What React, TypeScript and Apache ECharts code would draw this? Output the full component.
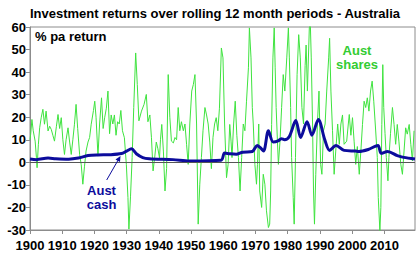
import React, { useEffect, useRef } from "react";
import * as echarts from "echarts";

const titleText = "Investment returns over rolling 12 month periods - Australia";
const yAxisTitle = "% pa return";
const xMin = 1900;
const xMax = 2019.5;
const xStep = 10;
const yMin = -30;
const yMax = 60;
const yStep = 10;

// [year, % pa] – Aust shares, rolling 12 month return
const sharesData: [number, number][] = [
  [1900.0, 10], [1900.2, 12.4], [1900.6, 19], [1901.0, 14], [1901.6, 9.4], [1902.0, 2], [1902.2, -2.4],
  [1902.6, 8], [1903.0, 15.3], [1903.5, 20], [1904.0, 23.5], [1904.5, 16.9], [1905.0, 22.7], [1905.6, 13.9],
  [1906.1, 16], [1906.6, 14.6], [1907.1, 12], [1907.6, 9.4], [1908.2, 16], [1908.7, 21.2], [1909.2, 15],
  [1909.7, 19.8], [1910.2, 10], [1910.7, 3.5], [1911.2, 10], [1911.8, 15.3], [1912.3, 9], [1912.8, 3.5],
  [1913.3, 10], [1913.8, 16.9], [1914.3, 25.7], [1914.8, 15], [1915.4, 3.5], [1915.9, -1], [1916.4, -9.7],
  [1916.9, -2], [1917.4, 5], [1918.0, 9], [1918.5, 11], [1919.0, 16.9], [1919.7, 23], [1920.1, 27.1],
  [1920.5, 20], [1921.1, 2.8], [1921.6, 17], [1922.2, 28.6], [1922.7, 15], [1923.2, 20], [1923.7, 24],
  [1924.2, 31.6], [1924.7, 12.7], [1925.2, 21], [1925.7, 17], [1926.2, 21], [1926.7, 12], [1927.2, 18],
  [1927.7, 17], [1928.2, 23], [1928.7, 14], [1929.3, 10.9], [1929.9, -0.9], [1930.4, -15.6], [1930.7, -29.6],
  [1931.2, -15], [1931.7, 2.1], [1932.2, 24.3], [1932.8, 48.5], [1933.3, 34.5], [1933.8, 18.4], [1934.6, 22.7],
  [1935.4, 25.7], [1936.1, 30.1], [1936.6, 18], [1937.2, 21], [1937.7, 10.9], [1938.2, -3.8], [1938.7, 2.1],
  [1939.2, 9], [1939.7, 6], [1940.2, 2], [1940.5, 10], [1940.9, 16.8], [1941.4, 5], [1941.9, -12.7],
  [1942.4, -2.8], [1942.9, 38.9], [1943.4, 20], [1943.9, 9.4], [1944.5, 8.6], [1945.0, 11], [1945.5, 10],
  [1946.0, 24.3], [1946.5, 14], [1947.0, 18], [1947.6, 14], [1948.1, 17], [1948.6, 8], [1949.1, -0.9],
  [1949.6, 17], [1950.2, 31.6], [1950.7, 34.5], [1951.2, 38.9], [1951.7, 17], [1952.2, -27.4], [1952.7, -9.7],
  [1953.2, 2.1], [1953.7, 14], [1954.3, 24.3], [1954.8, 21], [1955.3, 17], [1955.8, 9], [1956.3, -2.8],
  [1956.8, 11], [1957.3, 17], [1957.8, 19.8], [1958.3, 14], [1958.8, 24], [1959.4, 50.7], [1959.9, 46.3],
  [1960.4, 17], [1961.0, -6.8], [1961.5, -0.9], [1962.0, 16.8], [1962.4, 9.4], [1962.7, 2.1], [1963.2, 17],
  [1963.7, 27.1], [1964.2, 12], [1964.7, 2.1], [1965.2, -12.7], [1965.7, 2.1], [1966.2, 17], [1966.7, 14],
  [1967.2, 27.1], [1967.8, 41.9], [1968.1, 59.6], [1968.6, 46.3], [1969.0, 24.3], [1969.3, 17], [1969.8, -0.9],
  [1970.3, -9.7], [1970.6, -0.9], [1971.0, 17], [1971.3, -12.7], [1971.9, -20], [1972.4, -5.3], [1972.9, -9.7],
  [1973.4, -21.5], [1974.0, -28.9], [1974.4, -27.4], [1974.7, -12.7], [1975.0, 16.8], [1975.4, 46.3],
  [1975.8, 59.6], [1976.1, 41.9], [1976.4, 24.3], [1976.8, 9.4], [1977.1, -0.9], [1977.6, 9.4], [1978.1, 24.3],
  [1978.6, 38.9], [1979.1, 31.6], [1979.7, 46.3], [1980.2, 59.6], [1980.5, 46.3], [1980.9, 24.3], [1981.2, 2.1],
  [1981.7, -15.6], [1982.0, -27.4], [1982.4, 2.1], [1982.9, 38.9], [1983.4, 56.6], [1983.9, 46.3], [1984.4, 24.3],
  [1984.9, 17], [1985.4, 43], [1985.7, 52], [1986.1, 31.6], [1986.7, 59.6], [1987.0, 62], [1987.3, 46.3],
  [1987.7, 17], [1988.0, -12.7], [1988.3, -27.4], [1988.7, -5.3], [1989.2, 17], [1989.7, 31.6], [1990.2, -0.9],
  [1990.6, -5.3], [1991.1, 14], [1991.6, 17], [1992.1, 31.6], [1992.7, 46.3], [1993.0, 55], [1993.4, 31.6],
  [1993.9, 14], [1994.4, -5.3], [1994.9, 5], [1995.5, 17], [1996.0, 8], [1996.5, 17], [1997.0, 21],
  [1997.5, 8], [1998.3, 9.4], [1998.8, 17], [1999.1, 21.2], [1999.6, 12], [2000.1, 19.8], [2000.6, 9.4],
  [2001.1, -0.9], [2001.6, 7], [2002.2, -5.3], [2002.7, 5], [2003.2, 16.8], [2003.7, 27.1], [2004.2, 24.3],
  [2004.7, 28.6], [2005.2, 22.7], [2005.7, 31.6], [2006.2, 36], [2006.7, 27.1], [2007.3, 13.9], [2007.8, 2.1],
  [2008.1, -15.6], [2008.6, -30.4], [2008.9, -20], [2009.2, 16.8], [2009.5, 43.3], [2009.8, 24.3],
  [2010.2, 12.7], [2010.6, 2.1], [2011.1, -8.2], [2011.4, 2.1], [2011.9, 12.7], [2012.5, 24.3], [2013.0, 16.8],
  [2013.5, 8], [2014.0, 16.8], [2014.5, 9.4], [2015.1, -0.9], [2015.6, -5.3], [2016.1, 5], [2016.6, 15.3],
  [2017.1, 12.5], [2017.7, 16.8], [2018.2, 8], [2018.7, 0.6], [2019.2, 14],
];

// [year, % pa] – Aust cash
const cashData: [number, number][] = [
  [1900, 1.5], [1902, 1.2], [1905.6, 1.9], [1908, 1.6], [1912, 1.4], [1915, 1.9], [1918, 3], [1921, 3.3],
  [1925, 3.4], [1928.4, 3.9], [1930, 5], [1931.5, 6], [1933, 3.8], [1935, 2.1], [1937, 1.6], [1944.4, 1.2],
  [1949.5, 0.6], [1959.3, 0.9], [1960.4, 4.1], [1962, 3.8], [1964, 3.6], [1966, 4.5], [1969, 4.8],
  [1970.5, 7.5], [1971.5, 6.5], [1972.5, 5], [1974, 14], [1975.5, 9], [1977, 9.5], [1978, 10.5], [1979, 10],
  [1980.5, 11.5], [1982.5, 18.5], [1984, 11], [1986, 18], [1987.5, 12], [1989.5, 19], [1991.5, 10],
  [1993, 5.3], [1995, 7.5], [1997.5, 5.3], [2001, 5], [2002, 4.8], [2005, 5.7], [2008, 7.5], [2009, 4],
  [2011, 4.8], [2014, 3], [2016, 2.2], [2019.5, 1.5],
];

const FONT = '"Liberation Sans", Arial, sans-serif';
const GREEN = "#3fe33f";
const GREEN_LABEL = "#33cc33";
const BLUE = "#0c0c9c";

export default function App() {
  const ref = useRef<HTMLDivElement>(null);
  useEffect(() => {
    if (!ref.current) return;
    const chart = echarts.init(ref.current, undefined, { renderer: "svg" });
    const txt = (text: string, x: number, y: number, fill: string, align: string) => ({
      type: "text",
      x,
      y,
      style: {
        text,
        fill,
        font: `bold 13px ${FONT}`,
        textAlign: align,
        verticalAlign: "middle",
      },
      z: 100,
    });
    chart.setOption({
      animation: false,
      backgroundColor: "#ffffff",
      grid: {
        left: 30,
        right: 5,
        top: 27,
        bottom: 25,
        show: true,
        borderColor: "#8c8c8c",
        borderWidth: 1,
        backgroundColor: "transparent",
      },
      xAxis: {
        type: "value",
        min: xMin,
        max: xMax,
        interval: xStep,
        axisLine: { onZero: false, lineStyle: { color: "#8c8c8c", width: 1 } },
        axisTick: { show: true, length: 4, lineStyle: { color: "#8c8c8c" } },
        splitLine: { show: false },
        axisLabel: {
          showMaxLabel: false,
          color: "#000",
          fontWeight: "bold",
          fontSize: 13,
          fontFamily: FONT,
          margin: 9,
          formatter: (v: number) => String(Math.round(v)),
        },
      },
      yAxis: {
        type: "value",
        min: yMin,
        max: yMax,
        interval: yStep,
        axisLine: { show: true, lineStyle: { color: "#8c8c8c", width: 1 } },
        axisTick: { show: true, length: 4, lineStyle: { color: "#8c8c8c" } },
        splitLine: { show: false },
        axisLabel: {
          color: "#000",
          fontWeight: "bold",
          fontSize: 13,
          fontFamily: FONT,
          margin: 4,
        },
      },
      series: [
        {
          name: "Aust shares",
          type: "line",
          data: sharesData,
          showSymbol: false,
          symbol: "none",
          clip: true,
          lineStyle: { color: GREEN, width: 1 },
          markLine: {
            silent: true,
            symbol: "none",
            label: { show: false },
            lineStyle: { color: "#555", width: 1, type: "solid" },
            data: [{ yAxis: 0 }],
          },
          z: 2,
        },
        {
          name: "Aust cash",
          type: "line",
          data: cashData,
          showSymbol: false,
          symbol: "none",
          smooth: 0.3,
          clip: true,
          lineStyle: { color: BLUE, width: 3 },
          z: 3,
        },
      ],
      graphic: [
        txt(titleText, 215, 13, "#000", "center"),
        txt(yAxisTitle, 35, 36, "#000", "left"),
        txt("Aust", 357, 50, GREEN_LABEL, "center"),
        txt("shares", 357, 64, GREEN_LABEL, "center"),
        txt("Aust", 101.5, 190.5, BLUE, "center"),
        txt("cash", 101.5, 204.5, BLUE, "center"),
        {
          type: "line",
          shape: { x1: 106.7, y1: 180, x2: 119, y2: 158.5 },
          style: { stroke: BLUE, lineWidth: 1 },
          z: 100,
        },
        {
          type: "polygon",
          shape: { points: [[120.5, 156], [120, 162], [115.5, 159.5]] },
          style: { fill: BLUE },
          z: 100,
        },
      ],
    });
    return () => chart.dispose();
  }, []);
  return (
    <div
      ref={ref}
      style={{ position: "fixed", left: 0, top: 0, width: 420, height: 255, background: "#fff" }}
    />
  );
}
